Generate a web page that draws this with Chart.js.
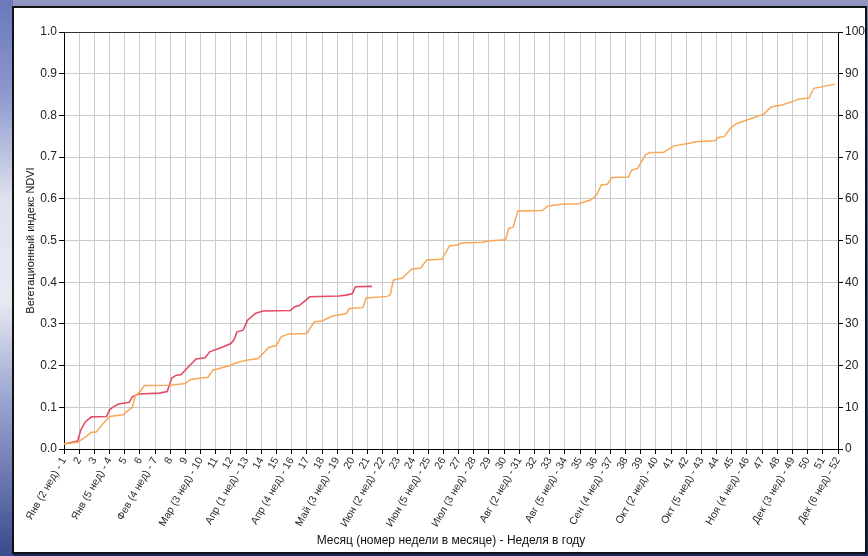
<!DOCTYPE html>
<html>
<head>
<meta charset="utf-8">
<title>NDVI</title>
<script src="https://cdn.jsdelivr.net/npm/chart.js"></script>
<style>
  html, body { margin: 0; padding: 0; width: 868px; height: 556px; overflow: hidden; }
  body {
    background: linear-gradient(180deg, #9597c0 0px, #6e7cbc 30px, #4f5fa6 250px, #2a3a80 420px, #1a2864 556px);
  }
  /* whitish glow on the left edge */
  #leftglow {
    position: absolute; left: 0; top: 0; width: 13px; height: 556px;
    background: linear-gradient(180deg, #6a78bc 0px, #8a96cc 90px, #dfe2ee 200px, #e8eaf2 300px, #9aa4d0 400px, #3a4a8e 556px);
  }
  #box {
    position: absolute; left: 12px; top: 6px; width: 855px; height: 548px;
    box-sizing: border-box; border: 2px solid #111; background: #fff;
  }
  #mycanvas { display: block; }
</style>
</head>
<body>
<div id="leftglow"></div>
<div id="box"><canvas id="mycanvas" width="851" height="544"></canvas></div>
<script>
// tick labels for weeks 1..52
var weekLabels = [
  "Янв (2 нед) - 1", "2", "3", "Янв (5 нед) - 4", "5", "6", "Фев (4 нед) - 7", "8", "9",
  "Мар (3 нед) - 10", "11", "12", "Апр (1 нед) - 13", "14", "15", "Апр (4 нед) - 16", "17", "18",
  "Май (3 нед) - 19", "20", "21", "Июн (2 нед) - 22", "23", "24", "Июн (5 нед) - 25", "26", "27",
  "Июл (3 нед) - 28", "29", "30", "Авг (2 нед) - 31", "32", "33", "Авг (5 нед) - 34", "35", "36",
  "Сен (4 нед) - 37", "38", "39", "Окт (2 нед) - 40", "41", "42", "Окт (5 нед) - 43", "44", "45",
  "Ноя (4 нед) - 46", "47", "48", "Дек (3 нед) - 49", "50", "51", "Дек (6 нед) - 52"
];

// red series (current year, up to week 21)
var redWeeks = [1.0, 1.9, 2.1, 2.4, 2.8, 3.8, 4.0, 4.2, 4.6, 5.3, 5.5, 5.9, 7.3, 7.8, 8.1, 8.4, 8.7, 9.3, 9.7,
  10.3, 10.6, 11.5, 12.0, 12.2, 12.4, 12.8, 13.1, 13.6, 14.1, 15.9, 16.2, 16.5, 16.8, 17.2, 19.1, 19.6, 20.0, 20.2, 21.3];
var redNdvi = [0.012, 0.019, 0.045, 0.065, 0.077, 0.078, 0.094, 0.100, 0.108, 0.112, 0.125, 0.132, 0.134, 0.138, 0.170, 0.177, 0.178, 0.201, 0.216,
  0.219, 0.233, 0.245, 0.253, 0.262, 0.281, 0.285, 0.309, 0.325, 0.331, 0.332, 0.341, 0.344, 0.353, 0.365, 0.367, 0.369, 0.373, 0.389, 0.390];

// orange series (full year)
var orangeWeeks = [1.0, 1.9, 2.5, 2.8, 3.1, 3.6, 4.0, 4.9, 5.2, 5.5, 5.7, 6.0, 6.3, 8.0, 9.0, 9.3, 10.0, 10.5, 10.8,
  12.0, 12.2, 13.0, 13.8, 14.0, 14.5, 15.0, 15.3, 15.8, 17.0, 17.2, 17.5, 18.0, 18.7, 19.6, 19.8, 20.7, 20.9,
  22.3, 22.5, 22.7, 23.3, 23.9, 24.5, 24.9, 25.9, 26.4, 27.0, 27.2, 28.6, 28.9, 30.1, 30.3, 30.6, 30.9,
  32.5, 32.9, 33.8, 34.9, 35.7, 36.1, 36.4, 36.8, 37.1, 38.2, 38.4, 38.8, 39.3, 39.6, 40.5, 40.8, 41.2,
  42.2, 42.6, 43.9, 44.1, 44.5, 44.9, 45.3, 46.0, 47.1, 47.6, 48.3, 49.0, 49.4, 50.1, 50.4, 51.0, 51.8];
var orangeNdvi = [0.012, 0.016, 0.031, 0.040, 0.040, 0.062, 0.078, 0.082, 0.092, 0.100, 0.128, 0.137, 0.152, 0.153, 0.157, 0.166, 0.170, 0.172, 0.189,
  0.201, 0.205, 0.213, 0.217, 0.225, 0.244, 0.248, 0.269, 0.276, 0.277, 0.289, 0.305, 0.307, 0.319, 0.325, 0.337, 0.339, 0.362,
  0.366, 0.370, 0.405, 0.410, 0.431, 0.434, 0.453, 0.455, 0.487, 0.490, 0.494, 0.496, 0.499, 0.502, 0.529, 0.532, 0.571,
  0.572, 0.583, 0.587, 0.588, 0.597, 0.609, 0.633, 0.635, 0.651, 0.652, 0.669, 0.673, 0.705, 0.711, 0.711, 0.718, 0.727,
  0.733, 0.737, 0.739, 0.747, 0.749, 0.769, 0.780, 0.789, 0.803, 0.820, 0.825, 0.833, 0.839, 0.842, 0.865, 0.869, 0.875];

function toPoints(xs, ys) {
  var pts = [];
  for (var i in xs) {
    pts.push({ x: xs[i], y: ys[i] });
  }
  return pts;
}

var fontFamily = "'Liberation Sans', Arial, sans-serif";

var chartdata = {
  datasets: [
    {
      label: "orange",
      data: toPoints(orangeWeeks, orangeNdvi),
      borderColor: "rgba(248, 168, 88, 1)",
      borderWidth: 1.5,
      pointRadius: 0,
      tension: 0,
      fill: false
    },
    {
      label: "red",
      data: toPoints(redWeeks, redNdvi),
      borderColor: "rgba(226, 76, 100, 1)",
      borderWidth: 1.6,
      pointRadius: 0,
      tension: 0,
      fill: false
    }
  ]
};

var ctx = document.getElementById("mycanvas");

var LineGraph = new Chart(ctx, {
  type: "line",
  data: chartdata,
  options: {
    responsive: false,
    animation: false,
    devicePixelRatio: 1,
    layout: { padding: { top: 24, left: 0, right: 0, bottom: 0 } },
    plugins: {
      legend: { display: false },
      tooltip: { enabled: false }
    },
    scales: {
      x: {
        type: "linear",
        min: 1,
        max: 52,
        ticks: {
          stepSize: 1,
          autoSkip: false,
          maxRotation: 60,
          minRotation: 60,
          padding: 1,
          color: "#2a2a2a",
          font: { family: fontFamily, size: 10.5 },
          callback: function(v) { return weekLabels[v - 1]; }
        },
        grid: { color: "#cbcbcb", tickColor: "#000", tickLength: 5 },
        border: { color: "#000", width: 1 },
        title: {
          display: true,
          text: "Месяц (номер недели в месяце) - Неделя в году",
          color: "#111",
          font: { family: fontFamily, size: 12 },
          padding: { top: 0, bottom: 4 }
        },
        afterFit: function(scale) { scale.height = 103; }
      },
      y: {
        min: 0,
        max: 1,
        ticks: {
          stepSize: 0.1,
          padding: 2,
          color: "#222",
          font: { family: fontFamily, size: 12 },
          callback: function(v) { return v.toFixed(1); }
        },
        grid: {
          color: function(c) { return c.tick && c.tick.value >= 1 ? "#333" : "#cbcbcb"; },
          tickColor: "#000",
          tickLength: 5
        },
        border: { color: "#000", width: 1 },
        title: {
          display: true,
          text: "Вегетационный индекс NDVI",
          color: "#111",
          font: { family: fontFamily, size: 11 },
          padding: { top: 10, bottom: 0 }
        },
        afterFit: function(scale) { scale.width = 50; }
      },
      y2: {
        position: "right",
        min: 0,
        max: 100,
        ticks: {
          stepSize: 10,
          padding: 2,
          color: "#222",
          font: { family: fontFamily, size: 12 }
        },
        grid: { drawOnChartArea: false, tickColor: "#000", tickLength: 5 },
        border: { color: "#000", width: 1 },
        afterFit: function(scale) { scale.width = 27; }
      }
    }
  }
});
</script>
</body>
</html>
